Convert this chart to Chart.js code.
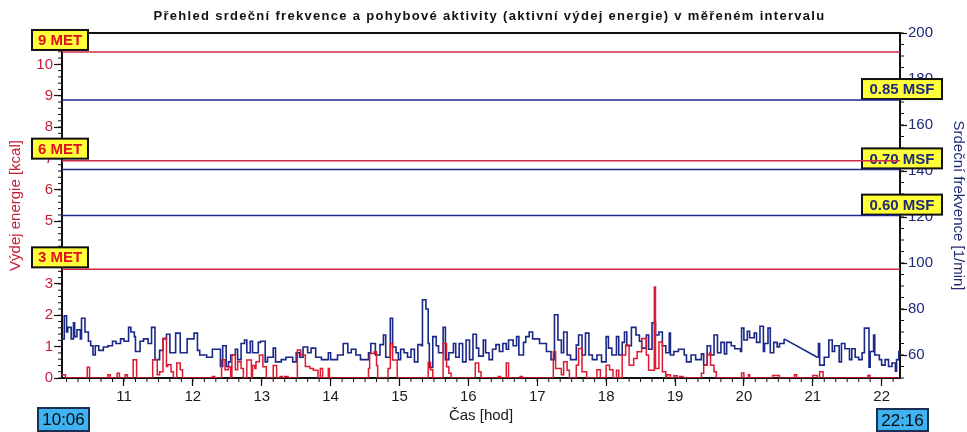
<!DOCTYPE html>
<html><head><meta charset="utf-8">
<script src="https://cdn.jsdelivr.net/npm/chart.js@4.4.1/dist/chart.umd.min.js"></script>
<style>html,body{margin:0;padding:0;background:#fff}#wrap{width:967px;height:432px;position:relative}</style>
</head><body><div id="wrap"><canvas id="c" width="967" height="432"></canvas></div>
<script>
// ---------- data ----------
const chartTitle = 'Přehled srdeční frekvence a pohybové aktivity (aktivní výdej energie) v měřeném intervalu';
const startLabel = '10:06';
const endLabel = '22:16';
const xTickLabels = [11,12,13,14,15,16,17,18,19,20,21,22];
const yLeftTicks = [0,1,2,3,4,5,6,7,8,9,10];
const yRightTicks = [60,80,100,120,140,160,180,200];

const metLabels = ['3 MET','6 MET','9 MET'];
const metLevels = [3.465, 6.93, 10.395];
const msfLabels = ['0.60 MSF','0.70 MSF','0.85 MSF'];
const msfLevels = [120.6, 140.7, 170.85];

const hrTimes = ['10:06','10:08','10:10','10:11','10:14','10:16','10:17','10:19','10:22','10:23','10:26','10:29','10:31','10:33','10:35','10:38','10:42','10:46','10:50','10:53','10:57','11:00','11:04','11:06','11:09','11:10','11:14','11:17','11:21','11:24','11:27','11:31','11:34','11:37','11:40','11:45','11:49','11:55','12:01','12:04','12:06','12:12','12:17','12:24','12:26','12:29','12:31','12:33','12:37','12:39','12:42','12:45','12:47','12:50','12:52','12:57','12:59','13:03','13:05','13:10','13:12','13:17','13:21','13:27','13:30','13:33','13:36','13:40','13:43','13:47','13:52','13:58','14:00','14:06','14:11','14:15','14:18','14:22','14:26','14:33','14:35','14:39','14:43','14:46','14:48','14:52','14:54','14:57','14:59','15:01','15:04','15:07','15:10','15:13','15:16','15:19','15:20','15:23','15:25','15:26','15:29','15:32','15:34','15:38','15:40','15:43','15:47','15:49','15:52','15:55','15:58','16:01','16:04','16:07','16:09','16:13','16:15','16:18','16:21','16:24','16:27','16:30','16:33','16:35','16:39','16:42','16:44','16:48','16:50','16:53','16:56','17:02','17:08','17:12','17:15','17:18','17:21','17:23','17:26','17:29','17:34','17:36','17:39','17:42','17:45','17:48','17:52','17:56','18:00','18:02','18:05','18:09','18:11','18:14','18:16','18:18','18:22','18:26','18:29','18:31','18:35','18:37','18:40','18:43','18:46','18:49','18:52','18:55','18:56','18:59','19:03','19:08','19:10','19:14','19:18','19:23','19:25','19:28','19:31','19:34','19:37','19:40','19:43','19:45','19:49','19:52','19:57','19:58','20:00','20:03','20:05','20:09','20:11','20:14','20:17','20:18','20:21','20:23','20:26','20:29','20:31','20:35','20:36','21:04','21:05','21:06','21:10','21:14','21:17','21:19','21:23','21:25','21:28','21:32','21:34','21:37','21:40','21:43','21:45','21:49','21:50','21:53','21:54','21:58','22:00','22:03','22:06','22:09','22:12','22:13','22:15','22:16'];
const hrValues = [67,77,70,72,67,74,68,71,67,76,70,66,64,60,64,62,63.5,64,66,65,67,66,72,70,68,61.5,66,67,65,72,58,62,67,69,61,69.5,61,67,69.5,62,60,59,62.5,55,64,55,57,60,62.5,58,65,66.5,61,66,61,65.5,66,57,59,63,57,58,59,57,61,59,63.5,61,63,59,58,61,58,60,65,61,62.5,60,58,61,65,60,64.5,68.7,59,76,63.5,61,58,62.5,61,59,62.5,57,64.5,64,84,80,65,54.6,68,64,61,72,58,61,65,59,65,57,66.5,58,69,63,59.5,66.5,61,58,62.5,64.5,61.5,65,62.5,66.5,64,68,60,65.5,68,70,67,65,61.5,58,77.5,66.5,61,70,60,58,64.3,68.7,60,69.5,60,58,60,57,68,63,60,68,60,65.5,70,64,72,68.7,66,63,68.7,62.5,74,68.7,70,64,61,69.5,60,61.5,62.5,60,57,60,58,60.5,55.6,64,60,68.7,61,65.5,60.5,65.5,64,62.7,61.5,71.7,66.5,70.3,67.5,69.5,65.5,72.5,61.5,65,71.7,61,65.5,63.5,65,67,null,59,65,55.6,59,66.5,61.5,64,57,65,62.7,58,62.7,59,58,61,71.7,54.7,61.5,68.7,60,58,55.6,58,55,56.5,53,58,61.5,61.5];

const energyTimes = ['10:06','10:09','10:28','10:30','10:46','10:48','10:54','10:56','11:01','11:03','11:08','11:11','11:25','11:29','11:31','11:34','11:37','11:38','11:41','11:43','11:46','11:49','11:51','12:17','12:19','12:25','12:28','12:31','12:33','12:34','12:37','12:39','12:42','12:44','12:47','12:51','12:52','12:54','12:55','12:58','13:01','13:04','13:10','13:13','13:16','13:18','13:20','13:23','13:31','13:34','13:38','13:42','13:45','13:49','13:51','13:53','13:58','13:59','14:33','14:34','14:38','14:40','14:41','14:50','14:52','14:54','14:58','15:25','15:27','15:29','15:38','15:41','15:43','15:45','16:06','16:09','16:11','16:26','16:28','16:33','16:35','16:45','16:47','17:14','17:16','17:21','17:23','17:26','17:28','17:34','17:36','17:39','17:43','17:52','17:55','18:00','18:03','18:06','18:09','18:11','18:14','18:17','18:20','18:24','18:27','18:31','18:35','18:37','18:42','18:43','18:46','18:49','18:52','18:53','18:56','18:59','19:02','19:04','19:07','19:23','19:25','19:28','19:30','19:31','19:34','19:36','19:58','20:00','20:04','20:05','20:25','20:31','20:44','20:46','21:00','21:04','21:06','21:09','21:48','21:50','22:16'];
const energyValues = [0.1,0,0.34,0,0.1,0,0.15,0,0.1,0,0.58,0,0.58,0.1,0.2,1.27,0.37,0.42,0.2,0,0.48,0.26,0,0.05,0,0.58,0.26,0.36,0,0.74,0.26,0.52,0.3,0,0.57,0,0.4,0.3,0.52,0.73,0.36,0,0.4,0,0.05,0,0.05,0,0.89,0.73,0.37,0.3,0.25,0,0.3,0,0.3,0,0.3,0.78,0.84,0.4,0,0.3,1.1,0.57,0,0.5,0.26,0,1.1,0.36,0.15,0,0.48,0.2,0,0.05,0,0.48,0,0.05,0,0.84,0.3,0.1,0.52,0.25,0,0.41,0.94,0.2,0,0.26,0,0.41,0.26,0,0.25,0,0.73,1.05,0.41,0.62,0.84,1.26,0.73,0.25,2.9,0.3,1.15,0.2,0,0.1,0,0.07,0,0.05,0,0.15,0.41,0.73,0.8,0.41,0.2,0,0.16,0,0.1,0,0.08,0,0.1,0,0.08,0,0.2,0,0.08,0,0];

// ---------- helpers ----------
const toH = s => { const p = s.split(':').map(Number); return p[0] + p[1] / 60; };
const xMin = toH(startLabel), xMax = toH(endLabel);
const RED = '#dc1a30', RED_LINE = '#cf2a47', NAVY = '#1a2888', NAVY_TXT = '#1e2a78';
const FONT = "'Liberation Sans', Arial, sans-serif";

const hrPts = hrTimes.map((t, i) => ({x: toH(t), y: hrValues[i]}));
const gapIdx = hrValues.indexOf(null);
const gapPts = [hrPts[gapIdx - 1], hrPts[gapIdx + 1]];
const enPts = energyTimes.map((t, i) => ({x: toH(t), y: energyValues[i]}));

const hLine = (v, color, axis, order) => ({
  data: [{x: xMin, y: v}, {x: xMax, y: v}], yAxisID: axis, borderColor: color,
  borderWidth: 1.5, pointRadius: 0, order: order, stepped: false
});

// Chart.js 'before' mode: horizontal at the previous value, then vertical at the next sample time
const datasets = [
  {label: 'energy', data: enPts, yAxisID: 'y', stepped: 'before', borderColor: RED, borderWidth: 1.5, pointRadius: 0, order: 0},
  {label: 'hr', data: hrPts, yAxisID: 'y2', stepped: 'before', spanGaps: false, borderColor: NAVY, borderWidth: 1.6, pointRadius: 0, order: 1},
  {label: 'hrGap', data: gapPts, yAxisID: 'y2', borderColor: NAVY, borderWidth: 1.6, pointRadius: 0, order: 1},
];
metLevels.forEach(v => datasets.push(hLine(v, RED_LINE, 'y', 2)));
msfLevels.forEach(v => datasets.push(hLine(v, NAVY, 'y2', 3)));

function box(ctx, x, y, w, h, fill, border, text, color, font) {
  ctx.save();
  ctx.fillStyle = fill; ctx.fillRect(x, y, w, h);
  ctx.lineWidth = 2; ctx.strokeStyle = border; ctx.strokeRect(x, y, w, h);
  ctx.fillStyle = color; ctx.font = font; ctx.textAlign = 'center'; ctx.textBaseline = 'middle';
  ctx.fillText(text, x + w / 2, y + h / 2 + 1);
  ctx.restore();
}

const decor = {
  id: 'decor',
  beforeDatasetsDraw(chart) {
    const {ctx, chartArea: a, scales} = chart;
    ctx.save();
    // top frame line
    ctx.strokeStyle = '#111'; ctx.lineWidth = 2;
    ctx.beginPath(); ctx.moveTo(a.left, a.top); ctx.lineTo(a.right, a.top); ctx.stroke();
    // minor ticks
    ctx.lineWidth = 1;
    for (let k = 0; k <= 55; k++) { const y = scales.y.getPixelForValue(k * 0.2); ctx.beginPath(); ctx.moveTo(a.left - 4, y); ctx.lineTo(a.left, y); ctx.stroke(); }
    for (let v = 50; v <= 200; v += 5) { const y = scales.y2.getPixelForValue(v); ctx.beginPath(); ctx.moveTo(a.right, y); ctx.lineTo(a.right + 4, y); ctx.stroke(); }
    for (let m = 610; m <= 1330; m += 10) { const x = scales.x.getPixelForValue(m / 60); ctx.beginPath(); ctx.moveTo(x, a.bottom); ctx.lineTo(x, a.bottom + 4); ctx.stroke(); }
    ctx.restore();
    msfLevels.forEach((v, i) => {
      const y = scales.y2.getPixelForValue(v);
      box(ctx, a.right - 38, y - 21, 80, 20, '#ffff3a', '#111', msfLabels[i], NAVY_TXT, 'bold 15px ' + FONT);
    });
  },
  afterDraw(chart) {
    const {ctx, chartArea: a, scales} = chart;
    ctx.save();
    // title
    ctx.fillStyle = '#111'; ctx.font = 'bold 13px ' + FONT; ctx.textAlign = 'center'; ctx.textBaseline = 'middle';
    ctx.letterSpacing = '1.3px';
    ctx.fillText(chartTitle, chart.width / 2 + 6, 16);
    ctx.letterSpacing = '0px';
    ctx.restore();
    metLevels.forEach((v, i) => {
      const y = scales.y.getPixelForValue(v);
      box(ctx, a.left - 30, y - 22, 56, 20, '#ffff3a', '#111', metLabels[i], '#e0101e', 'bold 15px ' + FONT);
    });
    const bx0 = scales.x.getPixelForValue(xMin), bx1 = scales.x.getPixelForValue(xMax);
    box(ctx, bx0 - 24, a.bottom + 30, 51, 23, '#3fb2f2', '#1b2f55', startLabel, '#0a0a0a', '17px ' + FONT);
    box(ctx, bx1 - 23, a.bottom + 31, 51, 22, '#3fb2f2', '#1b2f55', endLabel, '#0a0a0a', '17px ' + FONT);
  }
};

new Chart(document.getElementById('c'), {
  type: 'line',
  data: {datasets},
  plugins: [decor],
  options: {
    responsive: false, animation: false, events: [],
    layout: {padding: {left: 0, right: 0, top: 33, bottom: 0}},
    plugins: {legend: {display: false}, tooltip: {enabled: false}, title: {display: false}},
    scales: {
      x: {
        type: 'linear', min: xMin, max: xMax,
        afterBuildTicks: s => { s.ticks = xTickLabels.map(v => ({value: v})); },
        afterFit: s => { s.height = 54; },
        ticks: {color: '#1a1a1a', font: {family: FONT, size: 15}, padding: 2, maxRotation: 0, callback: v => String(v)},
        grid: {drawOnChartArea: false, tickLength: 8, tickColor: '#111', tickWidth: 1.2},
        border: {color: '#111', width: 2},
        title: {display: true, text: 'Čas [hod]', color: '#1a1a1a', font: {family: FONT, size: 15}, padding: {top: 0, bottom: 7}}
      },
      y: {
        position: 'left', min: 0, max: 11,
        afterBuildTicks: s => { s.ticks = yLeftTicks.map(v => ({value: v})); },
        afterFit: s => { s.width = 62; },
        ticks: {color: '#c41e3a', font: {family: FONT, size: 15}, padding: 1},
        grid: {drawOnChartArea: false, tickLength: 8, tickColor: '#111', tickWidth: 1.2},
        border: {color: '#111', width: 2},
        title: {display: true, text: 'Výdej energie [kcal]', color: '#c41e3a', font: {family: FONT, size: 15}, padding: {top: 7, bottom: 0}}
      },
      y2: {
        position: 'right', min: 50, max: 200,
        afterBuildTicks: s => { s.ticks = yRightTicks.map(v => ({value: v})); },
        afterFit: s => { s.width = 67; },
        ticks: {color: NAVY_TXT, font: {family: FONT, size: 15}, padding: 1},
        grid: {drawOnChartArea: false, tickLength: 7, tickColor: '#111', tickWidth: 1.2},
        border: {color: '#111', width: 2},
        title: {display: true, text: 'Srdeční frekvence [1/min]', color: NAVY_TXT, font: {family: FONT, size: 15}, padding: {top: 0, bottom: 0}}
      }
    }
  }
});
</script></body></html>
